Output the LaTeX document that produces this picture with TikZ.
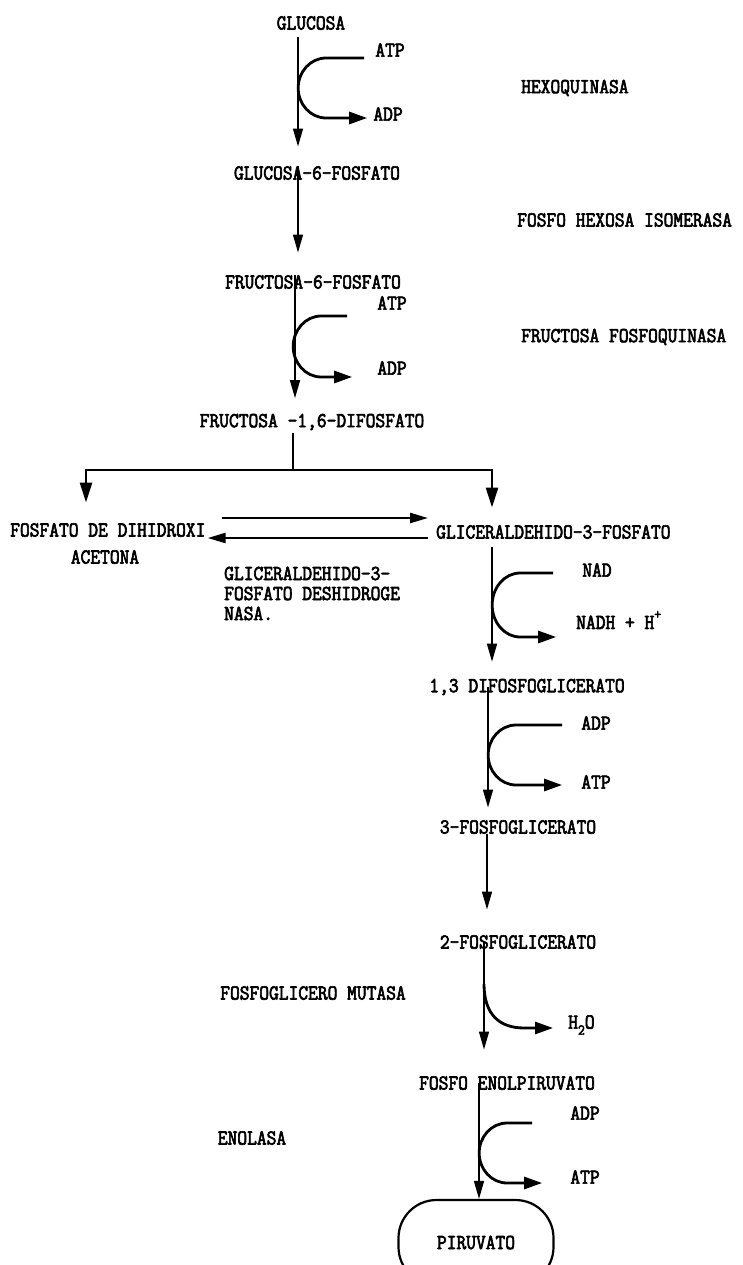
\documentclass[tikz,border=0pt]{standalone}
\usepackage{fontspec}
\newfontfamily\typefont[FakeStretch=0.89,FakeBold=3]{Latin Modern Mono}
\usetikzlibrary{arrows.meta}

\tikzset{
  every node/.style={font=\typefont\fontsize{21.3}{20}\selectfont, inner sep=0pt},
  flow/.style={line width=1.5pt, -{Triangle[length=18pt,width=10pt]}},
  split/.style={line width=2.6pt, -{Triangle[length=20pt,width=12pt]}},
  cofac/.style={line width=2.8pt, -{Triangle[length=18pt,width=12pt]}},
  eqarrow/.style={line width=2.4pt, -{Triangle[length=18pt,width=10pt]}},
  enzyme/.style={anchor=west},
  pyrbox/.style={draw, line width=2.2pt, rounded corners=38pt, minimum width=155pt, minimum height=85pt}
}

\begin{document}
\begin{tikzpicture}[x=1pt, y=-1pt]
  \useasboundingbox (0,0) rectangle (742,1265);
  \clip (0,0) rectangle (742,1265);

  % metabolitos
  \node (glc) at (311,23) {GLUCOSA};
  \node (g6p) at (317,173) {GLUCOSA-6-FOSFATO};
  \node (f6p) at (313,282) {FRUCTOSA-6-FOSFATO};
  \node (fdp) at (312,422) {FRUCTOSA -1,6-DIFOSFATO};
  \node[anchor=west] (dhap) at (10,530) {FOSFATO DE DIHIDROXI};
  \node (acet) at (105,557) {ACETONA};
  \node[anchor=west] (gap) at (436,532) {GLICERALDEHIDO-3-FOSFATO};
  \node (bpg) at (527,687) {1,3 DIFOSFOGLICERATO};
  \node (pg3) at (518,827) {3-FOSFOGLICERATO};
  \node (pg2) at (518,942) {2-FOSFOGLICERATO};
  \node (pep) at (507,1083) {FOSFO ENOLPIRUVATO};
  \node[pyrbox] (pyr) at (476,1242.5) {PIRUVATO};

  % cofactores
  \node (atpa) at (390,50) {ATP};
  \node (adpa) at (388,114) {ADP};
  \node (atpb) at (392,303) {ATP};
  \node (adpb) at (392,368) {ADP};
  \node (nad) at (597,570) {NAD};
  \node[anchor=west] (nadh) at (576,620) {NADH + H\raisebox{10pt}{\fontsize{15}{15}\selectfont +}};
  \node (adpc) at (596,723) {ADP};
  \node (atpc) at (596,782) {ATP};
  \node[anchor=west] (h2o) at (568,1025) {H\raisebox{-6pt}{\fontsize{15}{15}\selectfont 2}O};
  \node (adpd) at (585,1113) {ADP};
  \node (atpd) at (585,1177) {ATP};

  % enzimas
  \node[enzyme] (hk) at (521,88) {HEXOQUINASA};
  \node[enzyme] (phi) at (517,220) {FOSFO HEXOSA ISOMERASA};
  \node[enzyme] (pfk) at (521,337) {FRUCTOSA FOSFOQUINASA};
  \node[anchor=north west, align=left] (gapdh) at (224,566.5) {GLICERALDEHIDO-3-\\FOSFATO DESHIDROGE\\NASA.};
  \node (pgm) at (313,993) {FOSFOGLICERO MUTASA};
  \node (eno) at (252,1138) {ENOLASA};

  % via principal
  \draw[flow, shorten <=7.5pt, shorten >=19.5pt] (glc.south -| 298,0) -- (g6p.north -| 298,0);
  \draw[flow, shorten >=22.5pt] (g6p.north -| 298,0) -- (f6p.north -| 298,0);
  \draw[flow, shorten >=15.5pt] (f6p.north -| 295,0) -- (fdp.north -| 295,0);
  \coordinate (fork) at (293,470);
  \draw[line width=1.5pt, shorten <=3pt] (fdp.south -| fork) -- (fork);
  \draw[split, shorten >=20.5pt] (fork) -| (dhap.north -| 86,0);
  \draw[split, shorten >=17.5pt] (fork) -| (gap.north -| 492,0);
  \draw[eqarrow] ([xshift=16pt,yshift=12pt]dhap.east) -- ([xshift=-8pt,yshift=14pt]gap.west);
  \draw[eqarrow] ([xshift=-8pt,yshift=-6pt]gap.west) -- ([xshift=2pt,yshift=-8pt]dhap.east);
  \draw[flow, shorten <=8.5pt, shorten >=17pt] (gap.south -| 492,0) -- (bpg.north -| 492,0);
  \draw[flow, shorten >=12.5pt] (bpg.center -| 488,0) -- (pg3.north -| 488,0);
  \draw[flow, shorten >=25.5pt] (pg3.south -| 487,0) -- (pg2.north -| 487,0);
  \draw[flow, shorten >=26.5pt] (pg2.center -| 484,0) -- (pep.north -| 484,0);
  \draw[flow] (pep.center -| 479,0) -- (pyr.north -| 479,0);

  % entradas y salidas
  \draw[cofac] ([xshift=-11pt,yshift=-8pt]atpa.west) -- ++(-38,0)
    .. controls +(-16,0) and +(0,-16) .. ++(-28,30)
    .. controls +(0,16) and +(-16,0) .. ++(28,30) -- ++(41,0);
  \draw[cofac] ([xshift=-30pt,yshift=-13pt]atpb.west) -- ++(-26,0)
    .. controls +(-16,0) and +(0,-16) .. ++(-28,30.5)
    .. controls +(0,16) and +(-16,0) .. ++(28,30.5) -- ++(31,0);
  \draw[cofac] ([xshift=-29pt,yshift=-3pt]nad.west) -- ++(-33,0)
    .. controls +(-16,0) and +(0,-17) .. ++(-28,32)
    .. controls +(0,17) and +(-16,0) .. ++(28,32) -- ++(36,0);
  \draw[cofac] ([xshift=-19pt,yshift=-2pt]adpc.west) -- ++(-46,0)
    .. controls +(-16,0) and +(0,-16) .. ++(-28,30)
    .. controls +(0,16) and +(-16,0) .. ++(28,30) -- ++(46,0);
  \draw[cofac] (pg2.south -| 484,0) ++(0,35)
    .. controls +(0,30) and +(-25,0) .. ++(40,44) -- ++(29,0);
  \draw[cofac] ([xshift=-38pt,yshift=-10pt]adpd.west) -- ++(-25,0)
    .. controls +(-16,0) and +(0,-16) .. ++(-28,30)
    .. controls +(0,16) and +(-16,0) .. ++(28,30) -- ++(35,0);
\end{tikzpicture}
\end{document}
